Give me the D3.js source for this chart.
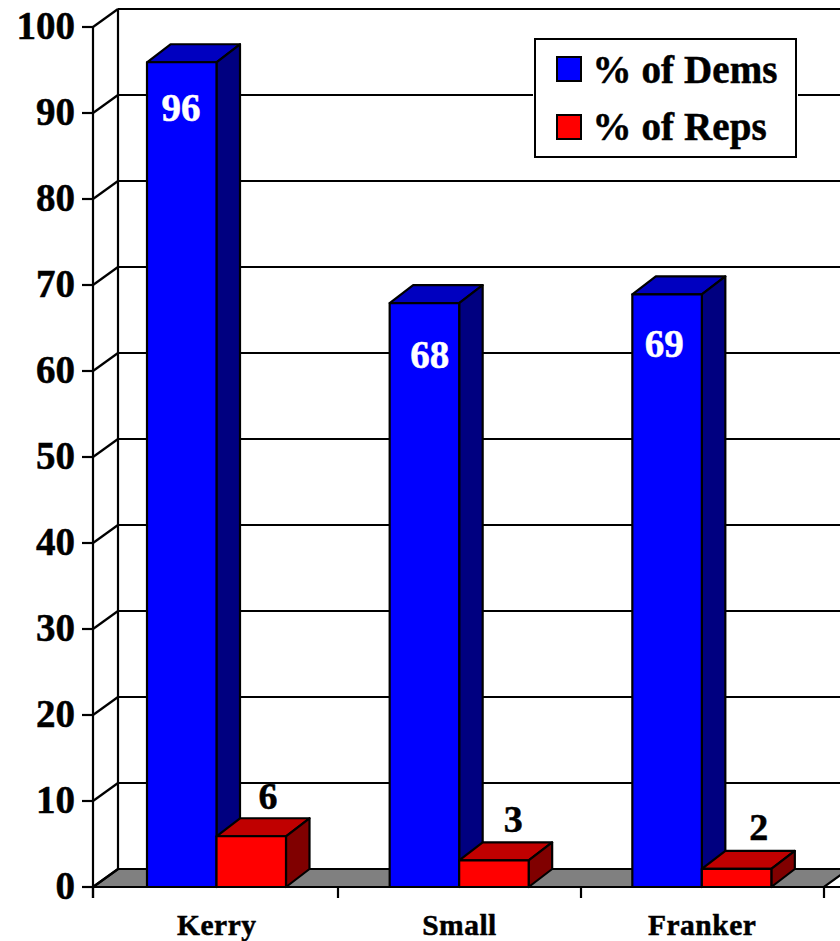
<!DOCTYPE html>
<html><head><meta charset="utf-8">
<script src="https://cdn.jsdelivr.net/npm/d3@7"></script>
<style>html,body{margin:0;padding:0;background:#fff;overflow:hidden}svg{display:block}text{font-family:"Liberation Serif","Times New Roman",serif;font-weight:700;stroke-width:.5px;paint-order:stroke}</style>
</head><body><svg id="c" width="840" height="941"></svg>
<script>
const categories = ["Kerry", "Small", "Franker"];
const seriesNames = ["% of Dems", "% of Reps"];
const dems = [95.9, 67.9, 68.9];
const reps = [5.9, 3.1, 2.1];
const demLabels = ["96", "68", "69"];
const repLabels = ["6", "3", "2"];
const yTicks = [0, 10, 20, 30, 40, 50, 60, 70, 80, 90, 100];

const svg = d3.select("#c");
const W = 840, dx = 25, dy = 18, barDx = 23.5, barDy = 18;
const y = d3.scaleLinear().domain([0, 100]).range([887, 27]);
const x0 = d3.scaleBand().domain(categories).range([93, 821]);
const xTick = d3.scaleBand().domain(categories).range([95, 824]);
const x1 = d3.scaleBand().domain(seriesNames).range([54, 193]);
const ink = "#000", sw = 2.2;

const styles = [
  { front: "#0000ff", top: "#0000c0", side: "#000080", text: "#fff" },
  { front: "#ff0000", top: "#c00000", side: "#800000", text: "#000" }
];
// label placement, relative to each bar
const demLabelDy = [46, 52, 50], demLabelDx = [34, 40, 32];
const repLabelDy = [-40, -41, -42], repLabelDx = [51.5, 54, 57];

// floor
const right = xTick.range()[1];
svg.append("path").attr("d", d3.line()([[93, y(0)], [93 + dx, y(0) - dy], [right + dx, y(0) - dy], [right, y(0)]]) + "Z")
  .attr("fill", "#808080").attr("stroke", ink).attr("stroke-width", sw);

// gridlines + wall diagonals + ticks
const grid = svg.append("g").attr("stroke", ink).attr("stroke-width", sw).attr("fill", "none");
yTicks.forEach(t => {
  const yy = y(t);
  if (t > 0) grid.append("line").attr("x1", 93 + dx).attr("x2", W).attr("y1", yy - dy).attr("y2", yy - dy);
  grid.append("line").attr("x1", 93).attr("x2", 93 + dx).attr("y1", yy).attr("y2", yy - dy);
  grid.append("line").attr("x1", 82).attr("x2", 93).attr("y1", yy).attr("y2", yy);
});
grid.append("line").attr("x1", 93 + dx).attr("x2", 93 + dx).attr("y1", y(100) - dy).attr("y2", y(0) - dy);
grid.append("line").attr("x1", 93).attr("x2", 93).attr("y1", y(100)).attr("y2", y(0) + 11);
grid.append("line").attr("x1", 93).attr("x2", W).attr("y1", y(0)).attr("y2", y(0));
[93, ...categories.slice(1).map(c => xTick(c)), right].forEach(xx =>
  grid.append("line").attr("x1", xx).attr("x2", xx).attr("y1", y(0)).attr("y2", y(0) + 11));

// y tick labels
svg.append("g").selectAll("text").data(yTicks).join("text")
  .attr("x", 75).attr("y", d => y(d) + 12).attr("text-anchor", "end")
  .attr("font-size", 39).attr("fill", ink).attr("stroke", ink).text(d => d);

// bars
function bar(g, xl, w, v, st) {
  const t = y(v), b = y(0), xr = xl + w;
  g.append("path").attr("d", d3.line()([[xl, t], [xl + barDx, t - barDy], [xr + barDx, t - barDy], [xr, t]]) + "Z").attr("fill", st.top);
  g.append("path").attr("d", d3.line()([[xr, t], [xr + barDx, t - barDy], [xr + barDx, b - barDy], [xr, b]]) + "Z").attr("fill", st.side);
  g.append("rect").attr("x", xl).attr("y", t).attr("width", w).attr("height", b - t).attr("fill", st.front);
  g.selectAll("*").attr("stroke", ink).attr("stroke-width", sw).attr("stroke-linejoin", "round");
}
categories.forEach((c, i) => {
  [dems[i], reps[i]].forEach((v, k) => {
    const g = svg.append("g");
    bar(g, x0(c) + x1(seriesNames[k]), x1.bandwidth(), v, styles[k]);
  });
});

// data labels
categories.forEach((c, i) => {
  const xb = x0(c) + x1(seriesNames[0]), xr = x0(c) + x1(seriesNames[1]);
  svg.append("text").attr("x", xb + demLabelDx[i]).attr("y", y(dems[i]) + demLabelDy[i] + 13)
    .attr("text-anchor", "middle").attr("font-size", 39).attr("fill", styles[0].text).attr("stroke", styles[0].text).text(demLabels[i]);
  svg.append("text").attr("x", xr + repLabelDx[i]).attr("y", y(reps[i]) + repLabelDy[i] + 13)
    .attr("text-anchor", "middle").attr("font-size", 38).attr("fill", styles[1].text).attr("stroke", styles[1].text).text(repLabels[i]);
});

// category labels
svg.append("g").selectAll("text").data(categories).join("text")
  .attr("x", d => x0(d) + x0.bandwidth() / 2 + 2.5).attr("y", 935).attr("text-anchor", "middle")
  .attr("font-size", 29.5).attr("letter-spacing", 0.5).attr("fill", ink).attr("stroke", ink).text(d => d);

// legend
const lg = svg.append("g");
lg.append("rect").attr("x", 533).attr("y", 37).attr("width", 265).attr("height", 122).attr("fill", "#fff");
lg.append("rect").attr("x", 535).attr("y", 39).attr("width", 261).attr("height", 118).attr("fill", "#fff").attr("stroke", ink).attr("stroke-width", 2);
seriesNames.forEach((s, i) => {
  const yy = 57 + i * 58;
  lg.append("rect").attr("x", 557).attr("y", yy).attr("width", 24).attr("height", 24)
    .attr("fill", styles[i].front).attr("stroke", ink).attr("stroke-width", 2);
  lg.append("text").attr("x", 592.5).attr("y", yy + 26 - i).attr("font-size", 39)
    .attr("letter-spacing", 0.1).attr("fill", ink).attr("stroke", ink).text(s);
});
</script></body></html>
